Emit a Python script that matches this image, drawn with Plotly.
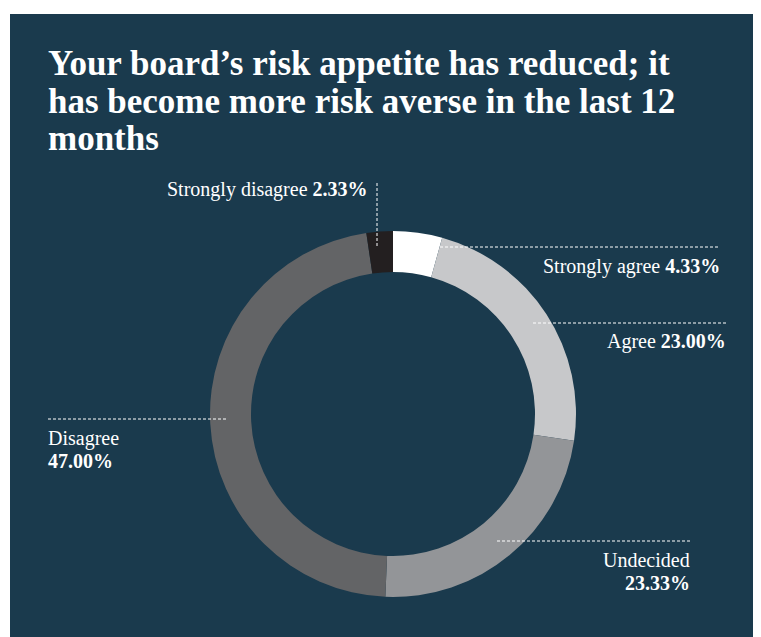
import plotly.graph_objs as go

# the page puts the figure 8px in from the top-left corner, so every position
# below is given in window pixels and converted with px_x / px_y
OFF = 8
W, H = 761 - OFF, 637 - OFF

labels = ['Strongly agree', 'Agree', 'Undecided', 'Disagree', 'Strongly disagree']
values = [4.33, 23.00, 23.33, 47.00, 2.33]
colors = ['#ffffff', '#c7c8ca', '#939598', '#636466', '#231f20']

title_lines = [
    "Your board’s risk appetite has reduced; it",
    "has become more risk averse in the last 12",
    "months",
]

PANEL = '#1a3a4d'
SERIF = 'Liberation Serif, Times New Roman, serif'


def px_x(x):
    return (x - OFF) / W


def px_y(y):
    return 1 - (y - OFF) / H


# donut centre and outer radius, window pixels
cx, cy, r = 393, 414, 183

fig = go.Figure()
fig.add_trace(go.Pie(
    labels=labels,
    values=values,
    hole=0.776,
    sort=False,
    direction='clockwise',
    rotation=0,
    marker=dict(colors=colors, line=dict(width=0)),
    textinfo='none',
    hoverinfo='label+percent',
    showlegend=False,
    domain=dict(x=[px_x(cx - r), px_x(cx + r)], y=[px_y(cy + r), px_y(cy - r)])
))

# navy panel, runs off the right and bottom edges
shapes = [dict(type='rect', xref='paper', yref='paper', layer='below',
               x0=px_x(10), x1=1.05, y0=-0.05, y1=px_y(14),
               fillcolor=PANEL, line=dict(width=0))]

# dashed leader lines
dash = dict(color='white', width=1, dash='3px,2px')
leaders = [
    (377, 183, 377, 247),   # strongly disagree (vertical)
    (430, 247, 720, 247),   # strongly agree
    (533, 323, 726, 323),   # agree
    (48, 419, 228, 419),    # disagree
    (497, 541, 690, 541),   # undecided
]
for x0, y0, x1, y1 in leaders:
    shapes.append(dict(type='line', xref='paper', yref='paper',
                       x0=px_x(x0), y0=px_y(y0), x1=px_x(x1), y1=px_y(y1), line=dash))

pct = [f'{v:.2f}%' for v in values]
lab_font = dict(family=SERIF, size=20, color='white')
title_font = dict(family=SERIF, size=35, color='white', weight='bold')

annotations = []
for line, yc in zip(title_lines, [64, 102, 138]):
    annotations.append(dict(text=line, x=px_x(46), y=px_y(yc), xanchor='left',
                            yanchor='middle', font=title_font))

# (text, x, y-centre, anchor)
label_rows = [
    (f'{labels[4]} <b>{pct[4]}</b>', 370, 190, 'right'),
    (f'{labels[0]} <b>{pct[0]}</b>', 722, 266, 'right'),
    (f'{labels[1]} <b>{pct[1]}</b>', 728, 341, 'right'),
    (labels[3], 46, 438, 'left'),
    (f'<b>{pct[3]}</b>', 46, 461, 'left'),
    (labels[2], 692, 560, 'right'),
    (f'<b>{pct[2]}</b>', 692, 583, 'right'),
]
for text, x, yc, anchor in label_rows:
    annotations.append(dict(text=text, x=px_x(x), y=px_y(yc), xanchor=anchor,
                            yanchor='middle', font=lab_font))

for a in annotations:
    a.update(xref='paper', yref='paper', showarrow=False)

fig.update_layout(
    width=W, height=H,
    margin=dict(l=0, r=0, t=0, b=0),
    paper_bgcolor='white',
    plot_bgcolor='white',
    shapes=shapes,
    annotations=annotations,
)

fig.write_html("out.html")
